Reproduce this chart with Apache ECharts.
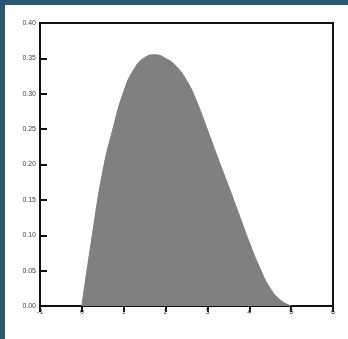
<!DOCTYPE html>
<html>
<head>
<meta charset="utf-8">
<script src="https://cdn.jsdelivr.net/npm/echarts@6/dist/echarts.min.js"></script>
<style>
  html, body { margin: 0; padding: 0; background: #2b5674; }
  #main { position: absolute; left: 5px; top: 5px; width: 343px; height: 334px; background: #fff; }
</style>
</head>
<body>
<div id="main"></div>
<script>
  // 数据
  var xs = [0, 0.25, 0.5, 0.75, 1, 1.25, 1.5, 1.75, 2, 2.25, 2.5, 2.75, 3, 3.25, 3.5, 3.75, 4, 4.25, 4.5, 4.75, 5];
  var density = [0, 0.100, 0.190, 0.252, 0.303, 0.335, 0.351, 0.355, 0.350, 0.339, 0.319, 0.288, 0.249, 0.209, 0.170, 0.130, 0.090, 0.054, 0.025, 0.008, 0];
  var xTicks = [-1, 0, 1, 2, 3, 4, 5, 6];
  var yTicks = [0, 0.05, 0.10, 0.15, 0.20, 0.25, 0.30, 0.35, 0.40];

  var myChart = echarts.init(document.getElementById('main'));
  var points = xs.map(function (x, i) { return [x, density[i]]; });

  var option = {
    animation: false,
    grid: {
      left: 35, right: 15, top: 18, bottom: 33,
      show: true, borderColor: '#111', borderWidth: 2
    },
    xAxis: {
      type: 'value',
      min: xTicks[0], max: xTicks[xTicks.length - 1], interval: 1,
      axisLine: { onZero: false, lineStyle: { color: '#111', width: 2 } },
      axisTick: { show: true, length: 6, lineStyle: { color: '#111', width: 2 } },
      axisLabel: { fontSize: 7, color: '#444', margin: 3 },
      splitLine: { show: false }
    },
    yAxis: {
      type: 'value',
      min: yTicks[0], max: yTicks[yTicks.length - 1], interval: 0.05,
      axisLine: { show: true, onZero: false, lineStyle: { color: '#111', width: 2 } },
      axisTick: { show: true, inside: true, length: 7, lineStyle: { color: '#111', width: 2 } },
      axisLabel: {
        fontSize: 7, color: '#444', margin: 4,
        formatter: function (v) { return v.toFixed(2); }
      },
      splitLine: { show: false }
    },
    series: [{
      type: 'line',
      data: points,
      smooth: true,
      showSymbol: false,
      lineStyle: { color: '#7d7d7d', width: 1 },
      areaStyle: { color: '#808080', opacity: 1 }
    }]
  };
  myChart.setOption(option);
</script>
</body>
</html>
